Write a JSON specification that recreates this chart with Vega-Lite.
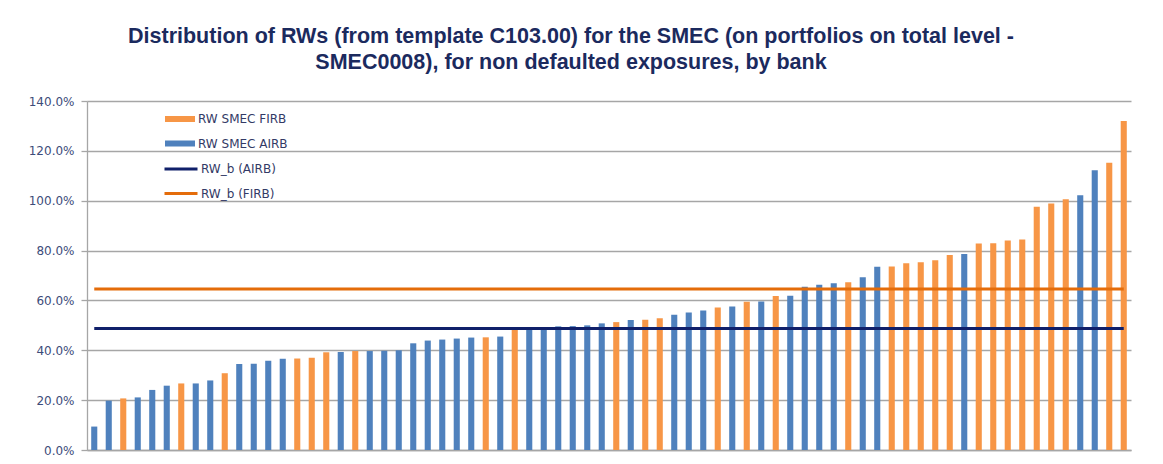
{
  "$schema": "https://vega.github.io/schema/vega-lite/v6.json",
  "width": 1044,
  "height": 349,
  "autosize": {"type": "none"},
  "padding": {"left": 87, "top": 101, "right": 32, "bottom": 14},
  "background": "white",
  "title": {
    "text": ["Distribution  of RWs (from template C103.00) for the SMEC (on portfolios on total level -", "SMEC0008), for non defaulted exposures, by bank"],
    "anchor": "middle",
    "dx": -38,
    "offset": 22,
    "font": "Liberation Sans",
    "fontSize": 21.5,
    "fontWeight": "bold",
    "color": "#1B2A5E",
    "lineHeight": 26
  },
  "datasets": {
    "banks": [
      {"bank": 1, "type": "RW SMEC AIRB", "rw": 0.094},
      {"bank": 2, "type": "RW SMEC AIRB", "rw": 0.198},
      {"bank": 3, "type": "RW SMEC FIRB", "rw": 0.207},
      {"bank": 4, "type": "RW SMEC AIRB", "rw": 0.211},
      {"bank": 5, "type": "RW SMEC AIRB", "rw": 0.241},
      {"bank": 6, "type": "RW SMEC AIRB", "rw": 0.258},
      {"bank": 7, "type": "RW SMEC FIRB", "rw": 0.267},
      {"bank": 8, "type": "RW SMEC AIRB", "rw": 0.267},
      {"bank": 9, "type": "RW SMEC AIRB", "rw": 0.279},
      {"bank": 10, "type": "RW SMEC FIRB", "rw": 0.308},
      {"bank": 11, "type": "RW SMEC AIRB", "rw": 0.345},
      {"bank": 12, "type": "RW SMEC AIRB", "rw": 0.346},
      {"bank": 13, "type": "RW SMEC AIRB", "rw": 0.358},
      {"bank": 14, "type": "RW SMEC AIRB", "rw": 0.366},
      {"bank": 15, "type": "RW SMEC FIRB", "rw": 0.367},
      {"bank": 16, "type": "RW SMEC FIRB", "rw": 0.370},
      {"bank": 17, "type": "RW SMEC FIRB", "rw": 0.392},
      {"bank": 18, "type": "RW SMEC AIRB", "rw": 0.393},
      {"bank": 19, "type": "RW SMEC FIRB", "rw": 0.397},
      {"bank": 20, "type": "RW SMEC AIRB", "rw": 0.397},
      {"bank": 21, "type": "RW SMEC AIRB", "rw": 0.398},
      {"bank": 22, "type": "RW SMEC AIRB", "rw": 0.400},
      {"bank": 23, "type": "RW SMEC AIRB", "rw": 0.428},
      {"bank": 24, "type": "RW SMEC AIRB", "rw": 0.439},
      {"bank": 25, "type": "RW SMEC AIRB", "rw": 0.443},
      {"bank": 26, "type": "RW SMEC AIRB", "rw": 0.447},
      {"bank": 27, "type": "RW SMEC AIRB", "rw": 0.451},
      {"bank": 28, "type": "RW SMEC FIRB", "rw": 0.452},
      {"bank": 29, "type": "RW SMEC AIRB", "rw": 0.455},
      {"bank": 30, "type": "RW SMEC FIRB", "rw": 0.484},
      {"bank": 31, "type": "RW SMEC AIRB", "rw": 0.487},
      {"bank": 32, "type": "RW SMEC AIRB", "rw": 0.488},
      {"bank": 33, "type": "RW SMEC AIRB", "rw": 0.496},
      {"bank": 34, "type": "RW SMEC AIRB", "rw": 0.497},
      {"bank": 35, "type": "RW SMEC AIRB", "rw": 0.500},
      {"bank": 36, "type": "RW SMEC AIRB", "rw": 0.508},
      {"bank": 37, "type": "RW SMEC FIRB", "rw": 0.513},
      {"bank": 38, "type": "RW SMEC AIRB", "rw": 0.521},
      {"bank": 39, "type": "RW SMEC FIRB", "rw": 0.522},
      {"bank": 40, "type": "RW SMEC FIRB", "rw": 0.529},
      {"bank": 41, "type": "RW SMEC AIRB", "rw": 0.543},
      {"bank": 42, "type": "RW SMEC AIRB", "rw": 0.552},
      {"bank": 43, "type": "RW SMEC AIRB", "rw": 0.560},
      {"bank": 44, "type": "RW SMEC FIRB", "rw": 0.572},
      {"bank": 45, "type": "RW SMEC AIRB", "rw": 0.576},
      {"bank": 46, "type": "RW SMEC FIRB", "rw": 0.595},
      {"bank": 47, "type": "RW SMEC AIRB", "rw": 0.596},
      {"bank": 48, "type": "RW SMEC FIRB", "rw": 0.618},
      {"bank": 49, "type": "RW SMEC AIRB", "rw": 0.619},
      {"bank": 50, "type": "RW SMEC AIRB", "rw": 0.655},
      {"bank": 51, "type": "RW SMEC AIRB", "rw": 0.663},
      {"bank": 52, "type": "RW SMEC AIRB", "rw": 0.669},
      {"bank": 53, "type": "RW SMEC FIRB", "rw": 0.673},
      {"bank": 54, "type": "RW SMEC AIRB", "rw": 0.693},
      {"bank": 55, "type": "RW SMEC AIRB", "rw": 0.735},
      {"bank": 56, "type": "RW SMEC FIRB", "rw": 0.736},
      {"bank": 57, "type": "RW SMEC FIRB", "rw": 0.749},
      {"bank": 58, "type": "RW SMEC FIRB", "rw": 0.753},
      {"bank": 59, "type": "RW SMEC FIRB", "rw": 0.761},
      {"bank": 60, "type": "RW SMEC FIRB", "rw": 0.782},
      {"bank": 61, "type": "RW SMEC AIRB", "rw": 0.786},
      {"bank": 62, "type": "RW SMEC FIRB", "rw": 0.828},
      {"bank": 63, "type": "RW SMEC FIRB", "rw": 0.829},
      {"bank": 64, "type": "RW SMEC FIRB", "rw": 0.840},
      {"bank": 65, "type": "RW SMEC FIRB", "rw": 0.844},
      {"bank": 66, "type": "RW SMEC FIRB", "rw": 0.976},
      {"bank": 67, "type": "RW SMEC FIRB", "rw": 0.989},
      {"bank": 68, "type": "RW SMEC FIRB", "rw": 1.006},
      {"bank": 69, "type": "RW SMEC AIRB", "rw": 1.022},
      {"bank": 70, "type": "RW SMEC AIRB", "rw": 1.122},
      {"bank": 71, "type": "RW SMEC FIRB", "rw": 1.152},
      {"bank": 72, "type": "RW SMEC FIRB", "rw": 1.320}
    ],
    "benchmarks": [
      {"bank": 1, "series": "RW_b (AIRB)", "rw": 0.487},
      {"bank": 72, "series": "RW_b (AIRB)", "rw": 0.487},
      {"bank": 1, "series": "RW_b (FIRB)", "rw": 0.646},
      {"bank": 72, "series": "RW_b (FIRB)", "rw": 0.646}
    ]
  },
  "encoding": {
    "x": {
      "field": "bank",
      "type": "ordinal",
      "scale": {"paddingInner": 0.58, "paddingOuter": 0.29},
      "axis": {"labels": false, "ticks": false, "title": null, "grid": false, "domainColor": "#A6A6A6", "domainWidth": 1.5}
    },
    "y": {
      "field": "rw",
      "type": "quantitative",
      "scale": {"domain": [0, 1.4], "nice": false, "zero": true},
      "axis": {
        "title": null,
        "values": [0, 0.2, 0.4, 0.6, 0.8, 1.0, 1.2, 1.4],
        "format": ".1%",
        "labelFont": "DejaVu Sans",
        "labelFontSize": 12,
        "labelColor": "#3D4C7A",
        "labelPadding": 7,
        "tickSize": 6,
        "tickColor": "#A6A6A6",
        "tickWidth": 1.3,
        "domainColor": "#A6A6A6",
        "domainWidth": 1.3,
        "gridColor": "#A6A6A6",
        "gridWidth": 1.3
      }
    }
  },
  "layer": [
    {
      "data": {"name": "banks"},
      "mark": {"type": "bar"},
      "encoding": {
        "color": {
          "field": "type",
          "type": "nominal",
          "scale": {"domain": ["RW SMEC FIRB", "RW SMEC AIRB"], "range": ["#F79646", "#4F81BD"]},
          "legend": {
            "orient": "none",
            "legendX": 78,
            "legendY": 8,
            "title": null,
            "padding": 0,
            "symbolType": "M-1,-0.2L1,-0.2L1,0.2L-1,0.2Z",
            "symbolSize": 900,
            "symbolStrokeWidth": 0,
            "symbolOpacity": 1,
            "clipHeight": 20,
            "rowPadding": 4.5,
            "labelOffset": 3,
            "labelFont": "DejaVu Sans",
            "labelFontSize": 12,
            "labelColor": "#333A66"
          }
        }
      }
    },
    {
      "data": {"name": "benchmarks"},
      "mark": {"type": "line", "strokeWidth": 3},
      "encoding": {
        "stroke": {
          "field": "series",
          "type": "nominal",
          "scale": {"domain": ["RW_b (AIRB)", "RW_b (FIRB)"], "range": ["#10206A", "#E46C0A"]},
          "legend": {
            "orient": "none",
            "legendX": 76,
            "legendY": 58,
            "title": null,
            "padding": 0,
            "symbolType": "stroke",
            "symbolSize": 1089,
            "symbolStrokeWidth": 3,
            "clipHeight": 20,
            "rowPadding": 4.5,
            "labelOffset": 2,
            "labelFont": "DejaVu Sans",
            "labelFontSize": 12,
            "labelColor": "#333A66"
          }
        }
      }
    }
  ],
  "config": {
    "view": {"stroke": null}
  }
}
